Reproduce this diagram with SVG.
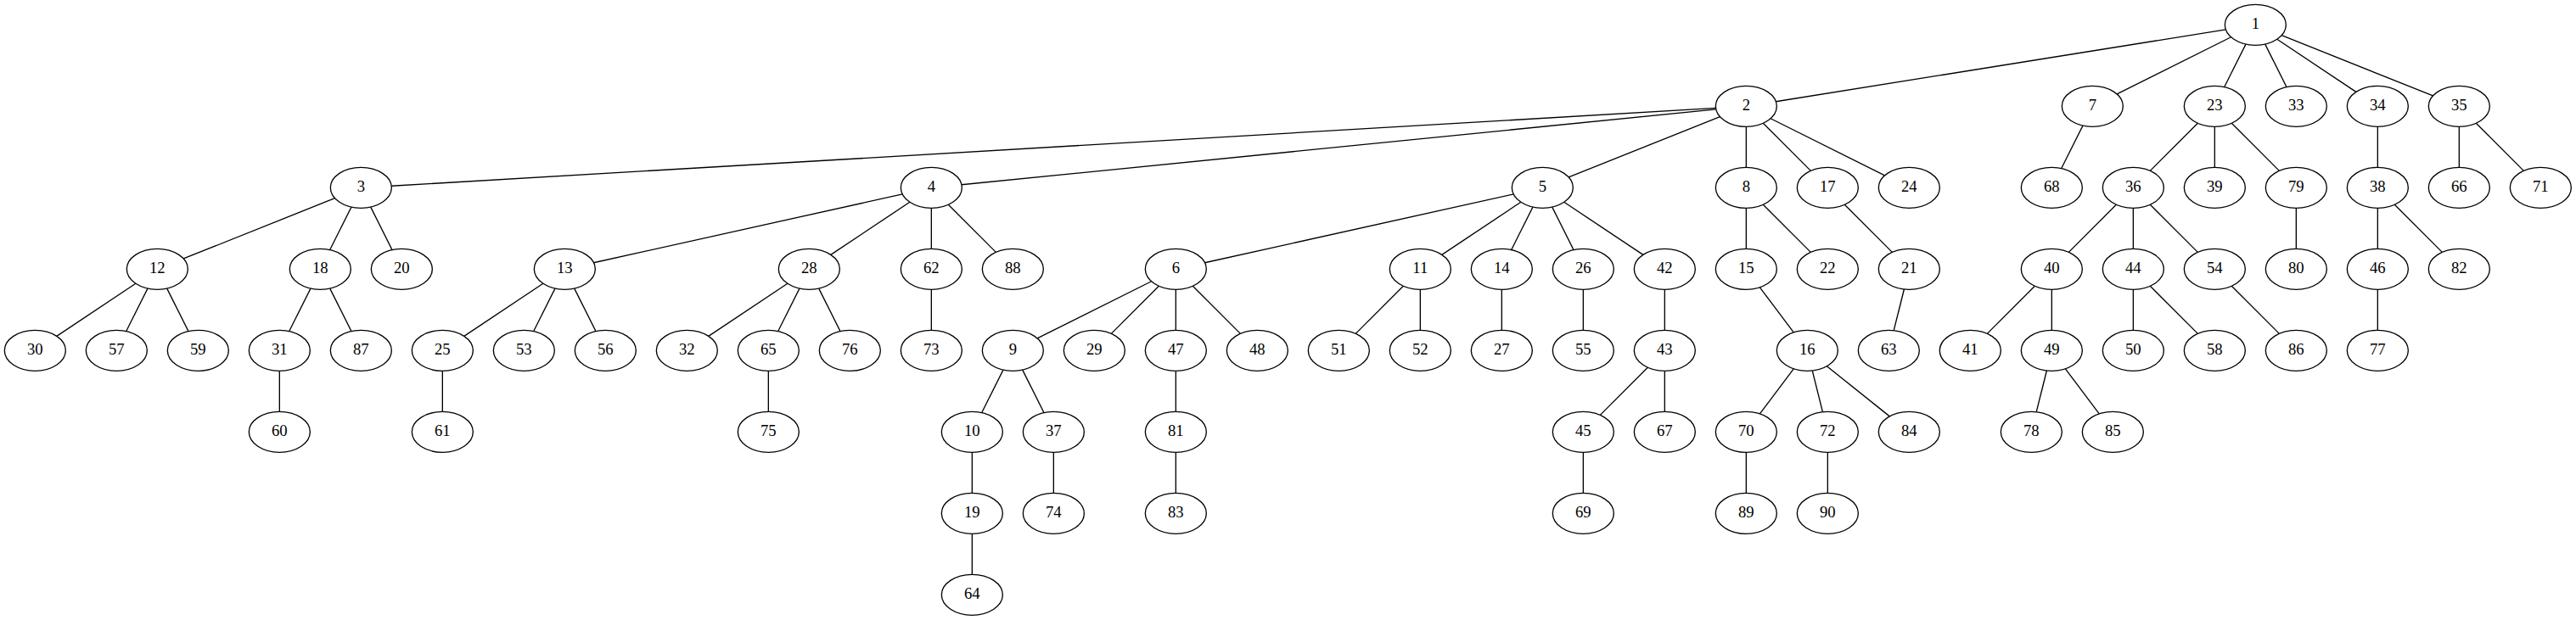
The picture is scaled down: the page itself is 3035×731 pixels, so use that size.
<svg xmlns="http://www.w3.org/2000/svg" width="3035" height="731" viewBox="0 0 3035 731">
<style>
.node ellipse{fill:#fff;stroke:#000;stroke-width:1}
.node text{font-family:"Liberation Serif","Times New Roman",serif;font-size:14px;text-anchor:middle;fill:#000}
#edges line{stroke:#000;stroke-width:1;fill:none}
</style>
<rect width="3035" height="731" fill="#fff"/>
<g transform="scale(1.333333)">
<g id="edges">
<line x1="1966.75" y1="26.2" x2="1569.25" y2="89.8"/>
<line x1="1971.4" y1="32.8" x2="1870.6" y2="83.2"/>
<line x1="1984.46" y1="39.08" x2="1965.54" y2="76.92"/>
<line x1="2001.54" y1="39.08" x2="2020.46" y2="76.92"/>
<line x1="2012.09" y1="34.73" x2="2081.91" y2="81.27"/>
<line x1="2016.15" y1="31.26" x2="2149.85" y2="84.74"/>
<line x1="1516.1" y1="95.58" x2="345.9" y2="164.42"/>
<line x1="1516.3" y1="96.67" x2="849.7" y2="163.33"/>
<line x1="1519.85" y1="103.26" x2="1386.15" y2="156.74"/>
<line x1="1543" y1="112" x2="1543" y2="148"/>
<line x1="1557.98" y1="108.98" x2="1600.02" y2="151.02"/>
<line x1="1564.6" y1="104.8" x2="1665.4" y2="155.2"/>
<line x1="295.85" y1="175.26" x2="162.15" y2="228.74"/>
<line x1="310.46" y1="183.08" x2="291.54" y2="220.92"/>
<line x1="327.54" y1="183.08" x2="346.46" y2="220.92"/>
<line x1="797.39" y1="171.69" x2="524.61" y2="232.31"/>
<line x1="803.91" y1="178.73" x2="734.09" y2="225.27"/>
<line x1="823" y1="184" x2="823" y2="220"/>
<line x1="837.98" y1="180.98" x2="880.02" y2="223.02"/>
<line x1="1337.39" y1="171.69" x2="1064.61" y2="232.31"/>
<line x1="1343.91" y1="178.73" x2="1274.09" y2="225.27"/>
<line x1="1354.46" y1="183.08" x2="1335.54" y2="220.92"/>
<line x1="1371.54" y1="183.08" x2="1390.46" y2="220.92"/>
<line x1="1382.09" y1="178.73" x2="1451.91" y2="225.27"/>
<line x1="1840.46" y1="111.08" x2="1821.54" y2="148.92"/>
<line x1="1543" y1="184" x2="1543" y2="220"/>
<line x1="1557.98" y1="180.98" x2="1600.02" y2="223.02"/>
<line x1="1629.98" y1="180.98" x2="1672.02" y2="223.02"/>
<line x1="1942.02" y1="108.98" x2="1899.98" y2="151.02"/>
<line x1="1957" y1="112" x2="1957" y2="148"/>
<line x1="1971.98" y1="108.98" x2="2014.02" y2="151.02"/>
<line x1="2101" y1="112" x2="2101" y2="148"/>
<line x1="2173" y1="112" x2="2173" y2="148"/>
<line x1="2187.98" y1="108.98" x2="2230.02" y2="151.02"/>
<line x1="119.91" y1="250.73" x2="50.09" y2="297.27"/>
<line x1="130.46" y1="255.08" x2="111.54" y2="292.92"/>
<line x1="147.54" y1="255.08" x2="166.46" y2="292.92"/>
<line x1="274.46" y1="255.08" x2="255.54" y2="292.92"/>
<line x1="291.54" y1="255.08" x2="310.46" y2="292.92"/>
<line x1="479.91" y1="250.73" x2="410.09" y2="297.27"/>
<line x1="490.46" y1="255.08" x2="471.54" y2="292.92"/>
<line x1="507.54" y1="255.08" x2="526.46" y2="292.92"/>
<line x1="695.91" y1="250.73" x2="626.09" y2="297.27"/>
<line x1="706.46" y1="255.08" x2="687.54" y2="292.92"/>
<line x1="723.54" y1="255.08" x2="742.46" y2="292.92"/>
<line x1="823" y1="256" x2="823" y2="292"/>
<line x1="1017.4" y1="248.8" x2="916.6" y2="299.2"/>
<line x1="1024.02" y1="252.98" x2="981.98" y2="295.02"/>
<line x1="1039" y1="256" x2="1039" y2="292"/>
<line x1="1053.98" y1="252.98" x2="1096.02" y2="295.02"/>
<line x1="1240.02" y1="252.98" x2="1197.98" y2="295.02"/>
<line x1="1255" y1="256" x2="1255" y2="292"/>
<line x1="1327" y1="256" x2="1327" y2="292"/>
<line x1="1399" y1="256" x2="1399" y2="292"/>
<line x1="1471" y1="256" x2="1471" y2="292"/>
<line x1="1555.07" y1="254.1" x2="1584.93" y2="293.9"/>
<line x1="1682.56" y1="255.76" x2="1673.44" y2="292.24"/>
<line x1="1870.02" y1="180.98" x2="1827.98" y2="223.02"/>
<line x1="1885" y1="184" x2="1885" y2="220"/>
<line x1="1899.98" y1="180.98" x2="1942.02" y2="223.02"/>
<line x1="2029" y1="184" x2="2029" y2="220"/>
<line x1="2101" y1="184" x2="2101" y2="220"/>
<line x1="2115.98" y1="180.98" x2="2158.02" y2="223.02"/>
<line x1="247" y1="328" x2="247" y2="364"/>
<line x1="391" y1="328" x2="391" y2="364"/>
<line x1="679" y1="328" x2="679" y2="364"/>
<line x1="886.46" y1="327.08" x2="867.54" y2="364.92"/>
<line x1="903.54" y1="327.08" x2="922.46" y2="364.92"/>
<line x1="1039" y1="328" x2="1039" y2="364"/>
<line x1="1456.02" y1="324.98" x2="1413.98" y2="367.02"/>
<line x1="1471" y1="328" x2="1471" y2="364"/>
<line x1="1584.93" y1="326.1" x2="1555.07" y2="365.9"/>
<line x1="1601.44" y1="327.76" x2="1610.56" y2="364.24"/>
<line x1="1614.29" y1="323.83" x2="1669.71" y2="368.17"/>
<line x1="1798.02" y1="252.98" x2="1755.98" y2="295.02"/>
<line x1="1813" y1="256" x2="1813" y2="292"/>
<line x1="1885" y1="256" x2="1885" y2="292"/>
<line x1="1899.98" y1="252.98" x2="1942.02" y2="295.02"/>
<line x1="1971.98" y1="252.98" x2="2014.02" y2="295.02"/>
<line x1="2101" y1="256" x2="2101" y2="292"/>
<line x1="859" y1="400" x2="859" y2="436"/>
<line x1="931" y1="400" x2="931" y2="436"/>
<line x1="1039" y1="400" x2="1039" y2="436"/>
<line x1="1399" y1="400" x2="1399" y2="436"/>
<line x1="1543" y1="400" x2="1543" y2="436"/>
<line x1="1615" y1="400" x2="1615" y2="436"/>
<line x1="1808.56" y1="327.76" x2="1799.44" y2="364.24"/>
<line x1="1825.07" y1="326.1" x2="1854.93" y2="365.9"/>
<line x1="859" y1="472" x2="859" y2="508"/>
</g>
<g id="n1" class="node"><ellipse cx="1993" cy="22" rx="27" ry="18"/><text x="1993" y="25.7">1</text></g>
<g id="n2" class="node"><ellipse cx="1543" cy="94" rx="27" ry="18"/><text x="1543" y="97.7">2</text></g>
<g id="n7" class="node"><ellipse cx="1849" cy="94" rx="27" ry="18"/><text x="1849" y="97.7">7</text></g>
<g id="n23" class="node"><ellipse cx="1957" cy="94" rx="27" ry="18"/><text x="1957" y="97.7">23</text></g>
<g id="n33" class="node"><ellipse cx="2029" cy="94" rx="27" ry="18"/><text x="2029" y="97.7">33</text></g>
<g id="n34" class="node"><ellipse cx="2101" cy="94" rx="27" ry="18"/><text x="2101" y="97.7">34</text></g>
<g id="n35" class="node"><ellipse cx="2173" cy="94" rx="27" ry="18"/><text x="2173" y="97.7">35</text></g>
<g id="n3" class="node"><ellipse cx="319" cy="166" rx="27" ry="18"/><text x="319" y="169.7">3</text></g>
<g id="n4" class="node"><ellipse cx="823" cy="166" rx="27" ry="18"/><text x="823" y="169.7">4</text></g>
<g id="n5" class="node"><ellipse cx="1363" cy="166" rx="27" ry="18"/><text x="1363" y="169.7">5</text></g>
<g id="n8" class="node"><ellipse cx="1543" cy="166" rx="27" ry="18"/><text x="1543" y="169.7">8</text></g>
<g id="n17" class="node"><ellipse cx="1615" cy="166" rx="27" ry="18"/><text x="1615" y="169.7">17</text></g>
<g id="n24" class="node"><ellipse cx="1687" cy="166" rx="27" ry="18"/><text x="1687" y="169.7">24</text></g>
<g id="n68" class="node"><ellipse cx="1813" cy="166" rx="27" ry="18"/><text x="1813" y="169.7">68</text></g>
<g id="n36" class="node"><ellipse cx="1885" cy="166" rx="27" ry="18"/><text x="1885" y="169.7">36</text></g>
<g id="n39" class="node"><ellipse cx="1957" cy="166" rx="27" ry="18"/><text x="1957" y="169.7">39</text></g>
<g id="n79" class="node"><ellipse cx="2029" cy="166" rx="27" ry="18"/><text x="2029" y="169.7">79</text></g>
<g id="n38" class="node"><ellipse cx="2101" cy="166" rx="27" ry="18"/><text x="2101" y="169.7">38</text></g>
<g id="n66" class="node"><ellipse cx="2173" cy="166" rx="27" ry="18"/><text x="2173" y="169.7">66</text></g>
<g id="n71" class="node"><ellipse cx="2245" cy="166" rx="27" ry="18"/><text x="2245" y="169.7">71</text></g>
<g id="n12" class="node"><ellipse cx="139" cy="238" rx="27" ry="18"/><text x="139" y="241.7">12</text></g>
<g id="n18" class="node"><ellipse cx="283" cy="238" rx="27" ry="18"/><text x="283" y="241.7">18</text></g>
<g id="n20" class="node"><ellipse cx="355" cy="238" rx="27" ry="18"/><text x="355" y="241.7">20</text></g>
<g id="n13" class="node"><ellipse cx="499" cy="238" rx="27" ry="18"/><text x="499" y="241.7">13</text></g>
<g id="n28" class="node"><ellipse cx="715" cy="238" rx="27" ry="18"/><text x="715" y="241.7">28</text></g>
<g id="n62" class="node"><ellipse cx="823" cy="238" rx="27" ry="18"/><text x="823" y="241.7">62</text></g>
<g id="n88" class="node"><ellipse cx="895" cy="238" rx="27" ry="18"/><text x="895" y="241.7">88</text></g>
<g id="n6" class="node"><ellipse cx="1039" cy="238" rx="27" ry="18"/><text x="1039" y="241.7">6</text></g>
<g id="n11" class="node"><ellipse cx="1255" cy="238" rx="27" ry="18"/><text x="1255" y="241.7">11</text></g>
<g id="n14" class="node"><ellipse cx="1327" cy="238" rx="27" ry="18"/><text x="1327" y="241.7">14</text></g>
<g id="n26" class="node"><ellipse cx="1399" cy="238" rx="27" ry="18"/><text x="1399" y="241.7">26</text></g>
<g id="n42" class="node"><ellipse cx="1471" cy="238" rx="27" ry="18"/><text x="1471" y="241.7">42</text></g>
<g id="n15" class="node"><ellipse cx="1543" cy="238" rx="27" ry="18"/><text x="1543" y="241.7">15</text></g>
<g id="n22" class="node"><ellipse cx="1615" cy="238" rx="27" ry="18"/><text x="1615" y="241.7">22</text></g>
<g id="n21" class="node"><ellipse cx="1687" cy="238" rx="27" ry="18"/><text x="1687" y="241.7">21</text></g>
<g id="n40" class="node"><ellipse cx="1813" cy="238" rx="27" ry="18"/><text x="1813" y="241.7">40</text></g>
<g id="n44" class="node"><ellipse cx="1885" cy="238" rx="27" ry="18"/><text x="1885" y="241.7">44</text></g>
<g id="n54" class="node"><ellipse cx="1957" cy="238" rx="27" ry="18"/><text x="1957" y="241.7">54</text></g>
<g id="n80" class="node"><ellipse cx="2029" cy="238" rx="27" ry="18"/><text x="2029" y="241.7">80</text></g>
<g id="n46" class="node"><ellipse cx="2101" cy="238" rx="27" ry="18"/><text x="2101" y="241.7">46</text></g>
<g id="n82" class="node"><ellipse cx="2173" cy="238" rx="27" ry="18"/><text x="2173" y="241.7">82</text></g>
<g id="n30" class="node"><ellipse cx="31" cy="310" rx="27" ry="18"/><text x="31" y="313.7">30</text></g>
<g id="n57" class="node"><ellipse cx="103" cy="310" rx="27" ry="18"/><text x="103" y="313.7">57</text></g>
<g id="n59" class="node"><ellipse cx="175" cy="310" rx="27" ry="18"/><text x="175" y="313.7">59</text></g>
<g id="n31" class="node"><ellipse cx="247" cy="310" rx="27" ry="18"/><text x="247" y="313.7">31</text></g>
<g id="n87" class="node"><ellipse cx="319" cy="310" rx="27" ry="18"/><text x="319" y="313.7">87</text></g>
<g id="n25" class="node"><ellipse cx="391" cy="310" rx="27" ry="18"/><text x="391" y="313.7">25</text></g>
<g id="n53" class="node"><ellipse cx="463" cy="310" rx="27" ry="18"/><text x="463" y="313.7">53</text></g>
<g id="n56" class="node"><ellipse cx="535" cy="310" rx="27" ry="18"/><text x="535" y="313.7">56</text></g>
<g id="n32" class="node"><ellipse cx="607" cy="310" rx="27" ry="18"/><text x="607" y="313.7">32</text></g>
<g id="n65" class="node"><ellipse cx="679" cy="310" rx="27" ry="18"/><text x="679" y="313.7">65</text></g>
<g id="n76" class="node"><ellipse cx="751" cy="310" rx="27" ry="18"/><text x="751" y="313.7">76</text></g>
<g id="n73" class="node"><ellipse cx="823" cy="310" rx="27" ry="18"/><text x="823" y="313.7">73</text></g>
<g id="n9" class="node"><ellipse cx="895" cy="310" rx="27" ry="18"/><text x="895" y="313.7">9</text></g>
<g id="n29" class="node"><ellipse cx="967" cy="310" rx="27" ry="18"/><text x="967" y="313.7">29</text></g>
<g id="n47" class="node"><ellipse cx="1039" cy="310" rx="27" ry="18"/><text x="1039" y="313.7">47</text></g>
<g id="n48" class="node"><ellipse cx="1111" cy="310" rx="27" ry="18"/><text x="1111" y="313.7">48</text></g>
<g id="n51" class="node"><ellipse cx="1183" cy="310" rx="27" ry="18"/><text x="1183" y="313.7">51</text></g>
<g id="n52" class="node"><ellipse cx="1255" cy="310" rx="27" ry="18"/><text x="1255" y="313.7">52</text></g>
<g id="n27" class="node"><ellipse cx="1327" cy="310" rx="27" ry="18"/><text x="1327" y="313.7">27</text></g>
<g id="n55" class="node"><ellipse cx="1399" cy="310" rx="27" ry="18"/><text x="1399" y="313.7">55</text></g>
<g id="n43" class="node"><ellipse cx="1471" cy="310" rx="27" ry="18"/><text x="1471" y="313.7">43</text></g>
<g id="n16" class="node"><ellipse cx="1597" cy="310" rx="27" ry="18"/><text x="1597" y="313.7">16</text></g>
<g id="n63" class="node"><ellipse cx="1669" cy="310" rx="27" ry="18"/><text x="1669" y="313.7">63</text></g>
<g id="n41" class="node"><ellipse cx="1741" cy="310" rx="27" ry="18"/><text x="1741" y="313.7">41</text></g>
<g id="n49" class="node"><ellipse cx="1813" cy="310" rx="27" ry="18"/><text x="1813" y="313.7">49</text></g>
<g id="n50" class="node"><ellipse cx="1885" cy="310" rx="27" ry="18"/><text x="1885" y="313.7">50</text></g>
<g id="n58" class="node"><ellipse cx="1957" cy="310" rx="27" ry="18"/><text x="1957" y="313.7">58</text></g>
<g id="n86" class="node"><ellipse cx="2029" cy="310" rx="27" ry="18"/><text x="2029" y="313.7">86</text></g>
<g id="n77" class="node"><ellipse cx="2101" cy="310" rx="27" ry="18"/><text x="2101" y="313.7">77</text></g>
<g id="n60" class="node"><ellipse cx="247" cy="382" rx="27" ry="18"/><text x="247" y="385.7">60</text></g>
<g id="n61" class="node"><ellipse cx="391" cy="382" rx="27" ry="18"/><text x="391" y="385.7">61</text></g>
<g id="n75" class="node"><ellipse cx="679" cy="382" rx="27" ry="18"/><text x="679" y="385.7">75</text></g>
<g id="n10" class="node"><ellipse cx="859" cy="382" rx="27" ry="18"/><text x="859" y="385.7">10</text></g>
<g id="n37" class="node"><ellipse cx="931" cy="382" rx="27" ry="18"/><text x="931" y="385.7">37</text></g>
<g id="n81" class="node"><ellipse cx="1039" cy="382" rx="27" ry="18"/><text x="1039" y="385.7">81</text></g>
<g id="n45" class="node"><ellipse cx="1399" cy="382" rx="27" ry="18"/><text x="1399" y="385.7">45</text></g>
<g id="n67" class="node"><ellipse cx="1471" cy="382" rx="27" ry="18"/><text x="1471" y="385.7">67</text></g>
<g id="n70" class="node"><ellipse cx="1543" cy="382" rx="27" ry="18"/><text x="1543" y="385.7">70</text></g>
<g id="n72" class="node"><ellipse cx="1615" cy="382" rx="27" ry="18"/><text x="1615" y="385.7">72</text></g>
<g id="n84" class="node"><ellipse cx="1687" cy="382" rx="27" ry="18"/><text x="1687" y="385.7">84</text></g>
<g id="n78" class="node"><ellipse cx="1795" cy="382" rx="27" ry="18"/><text x="1795" y="385.7">78</text></g>
<g id="n85" class="node"><ellipse cx="1867" cy="382" rx="27" ry="18"/><text x="1867" y="385.7">85</text></g>
<g id="n19" class="node"><ellipse cx="859" cy="454" rx="27" ry="18"/><text x="859" y="457.7">19</text></g>
<g id="n74" class="node"><ellipse cx="931" cy="454" rx="27" ry="18"/><text x="931" y="457.7">74</text></g>
<g id="n83" class="node"><ellipse cx="1039" cy="454" rx="27" ry="18"/><text x="1039" y="457.7">83</text></g>
<g id="n69" class="node"><ellipse cx="1399" cy="454" rx="27" ry="18"/><text x="1399" y="457.7">69</text></g>
<g id="n89" class="node"><ellipse cx="1543" cy="454" rx="27" ry="18"/><text x="1543" y="457.7">89</text></g>
<g id="n90" class="node"><ellipse cx="1615" cy="454" rx="27" ry="18"/><text x="1615" y="457.7">90</text></g>
<g id="n64" class="node"><ellipse cx="859" cy="526" rx="27" ry="18"/><text x="859" y="529.7">64</text></g>
</g>
</svg>
